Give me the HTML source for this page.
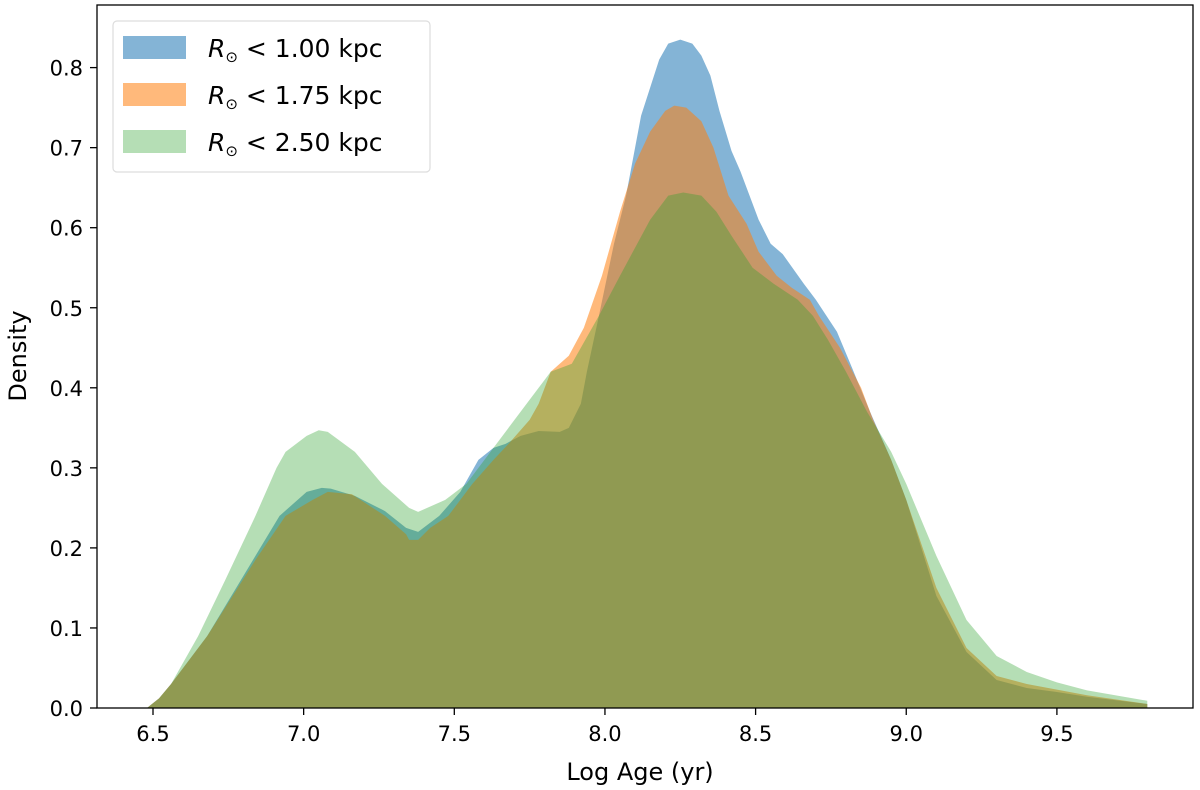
<!DOCTYPE html>
<html><head><meta charset="utf-8"><style>
body{margin:0;background:#fff;}
svg{display:block;font-family:"DejaVu Sans","Liberation Sans",sans-serif;}
</style></head><body>
<svg id="chart" width="1200" height="790" viewBox="0 0 1200 790" xmlns="http://www.w3.org/2000/svg">
<g id="areas"></g>
<rect x="97" y="5" width="1096" height="703" fill="none" stroke="#000" stroke-width="1.3"/>
<g id="axes"></g>
<text x="640" y="780" font-size="24" text-anchor="middle">Log Age (yr)</text>
<text transform="translate(26,356) rotate(-90)" font-size="24" text-anchor="middle">Density</text>
<g>
<rect x="113" y="21" width="317" height="151" rx="4" fill="#fff" fill-opacity="0.8" stroke="#ddd" stroke-width="1.2"/>
<g><rect x="123" y="36" width="63" height="23" fill="#1f77b4" fill-opacity="0.55"/><text x="208" y="57" font-size="25"><tspan font-style="italic">R</tspan><tspan font-size="15" dy="5">⊙</tspan><tspan dy="-5"> &lt; 1.00 kpc</tspan></text></g>
<g><rect x="123" y="83" width="63" height="23" fill="#ff7f0e" fill-opacity="0.55"/><text x="208" y="104" font-size="25"><tspan font-style="italic">R</tspan><tspan font-size="15" dy="5">⊙</tspan><tspan dy="-5"> &lt; 1.75 kpc</tspan></text></g>
<g><rect x="123" y="130" width="63" height="23" fill="#2ca02c" fill-opacity="0.35"/><text x="208" y="151" font-size="25"><tspan font-style="italic">R</tspan><tspan font-size="15" dy="5">⊙</tspan><tspan dy="-5"> &lt; 2.50 kpc</tspan></text></g>
</g>
</svg>
<script>
const xTicks=[6.5,7.0,7.5,8.0,8.5,9.0,9.5];
const yTicks=[0.0,0.1,0.2,0.3,0.4,0.5,0.6,0.7,0.8];
const blueX=[6.48,6.52,6.56,6.68,6.84,6.92,7.01,7.06,7.09,7.17,7.27,7.34,7.38,7.45,7.52,7.58,7.63,7.67,7.72,7.78,7.85,7.88,7.92,7.94,7.98,8.03,8.07,8.10,8.12,8.15,8.18,8.21,8.25,8.29,8.32,8.35,8.38,8.42,8.45,8.51,8.55,8.59,8.66,8.70,8.77,8.82,8.88,8.95,9.0,9.1,9.2,9.3,9.4,9.5,9.6,9.8];
const blueY=[0.0,0.012,0.03,0.09,0.19,0.24,0.27,0.275,0.274,0.265,0.246,0.225,0.22,0.24,0.27,0.31,0.325,0.33,0.34,0.346,0.345,0.35,0.38,0.42,0.49,0.58,0.64,0.70,0.74,0.775,0.81,0.83,0.835,0.83,0.815,0.79,0.746,0.696,0.67,0.61,0.58,0.567,0.53,0.51,0.47,0.425,0.37,0.31,0.26,0.14,0.07,0.035,0.025,0.02,0.014,0.005];
const orangeX=[6.48,6.52,6.56,6.68,6.84,6.94,7.03,7.08,7.16,7.27,7.34,7.35,7.38,7.42,7.48,7.56,7.63,7.68,7.75,7.78,7.82,7.88,7.93,7.99,8.05,8.10,8.15,8.20,8.23,8.27,8.32,8.36,8.41,8.47,8.51,8.57,8.62,8.68,8.71,8.78,8.85,8.89,8.95,9.0,9.1,9.2,9.3,9.4,9.5,9.6,9.8];
const orangeY=[0.0,0.012,0.03,0.09,0.185,0.24,0.26,0.27,0.267,0.24,0.217,0.21,0.21,0.225,0.24,0.28,0.31,0.33,0.36,0.38,0.42,0.44,0.475,0.54,0.62,0.68,0.72,0.746,0.7525,0.75,0.733,0.70,0.64,0.605,0.57,0.54,0.525,0.51,0.49,0.45,0.40,0.36,0.31,0.26,0.15,0.075,0.04,0.03,0.023,0.016,0.005];
const greenX=[6.48,6.52,6.56,6.65,6.74,6.84,6.91,6.94,7.01,7.05,7.08,7.17,7.26,7.35,7.38,7.47,7.54,7.63,7.74,7.82,7.89,7.98,8.05,8.15,8.21,8.26,8.32,8.37,8.42,8.49,8.56,8.64,8.69,8.74,8.80,8.87,8.95,9.0,9.1,9.2,9.3,9.4,9.5,9.6,9.8];
const greenY=[0.0,0.012,0.03,0.09,0.16,0.24,0.30,0.32,0.34,0.347,0.345,0.32,0.28,0.25,0.245,0.26,0.28,0.325,0.38,0.42,0.43,0.49,0.54,0.61,0.64,0.644,0.64,0.62,0.59,0.55,0.53,0.51,0.49,0.46,0.42,0.37,0.32,0.28,0.19,0.11,0.065,0.045,0.032,0.022,0.009];
const X0=153, XS=301.3, Y0=708, YS=800.5;
function sx(v){return X0+(v-6.5)*XS;}
function sy(v){return Y0-v*YS;}
const NS="http://www.w3.org/2000/svg";
const areas=document.getElementById('areas');
function area(xs,ys,color,op,name){
  let d="M"+sx(xs[0])+","+sy(0);
  for(let i=0;i<xs.length;i++) d+=" L"+sx(xs[i])+","+sy(ys[i]);
  d+=" L"+sx(xs[xs.length-1])+","+sy(0)+" Z";
  const p=document.createElementNS(NS,'path');
  p.setAttribute('d',d);p.setAttribute('fill',color);p.setAttribute('fill-opacity',op);
  
  
  areas.appendChild(p);
}
area(blueX,blueY,'#1f77b4',0.55,'area-1kpc');
area(orangeX,orangeY,'#ff7f0e',0.55,'area-1.75kpc');
area(greenX,greenY,'#2ca02c',0.35,'area-2.5kpc');
const axes=document.getElementById('axes');
xTicks.forEach(v=>{
  const l=document.createElementNS(NS,'line');
  l.setAttribute('x1',sx(v));l.setAttribute('x2',sx(v));l.setAttribute('y1',708);l.setAttribute('y2',715);l.setAttribute('stroke','#000');l.setAttribute('stroke-width','1.3');
  
  
  axes.appendChild(l);
  const t=document.createElementNS(NS,'text');
  t.setAttribute('x',sx(v));t.setAttribute('y',741);t.setAttribute('font-size','21');t.setAttribute('text-anchor','middle');
  t.textContent=v.toFixed(1);
  
  
  axes.appendChild(t);
});
yTicks.forEach(v=>{
  const l=document.createElementNS(NS,'line');
  l.setAttribute('x1',90);l.setAttribute('x2',97);l.setAttribute('y1',sy(v));l.setAttribute('y2',sy(v));l.setAttribute('stroke','#000');l.setAttribute('stroke-width','1.3');
  
  
  axes.appendChild(l);
  const t=document.createElementNS(NS,'text');
  t.setAttribute('x',83);t.setAttribute('y',sy(v)+8);t.setAttribute('font-size','21');t.setAttribute('text-anchor','end');
  t.textContent=v.toFixed(1);
  
  
  axes.appendChild(t);
});
</script>
</body></html>
